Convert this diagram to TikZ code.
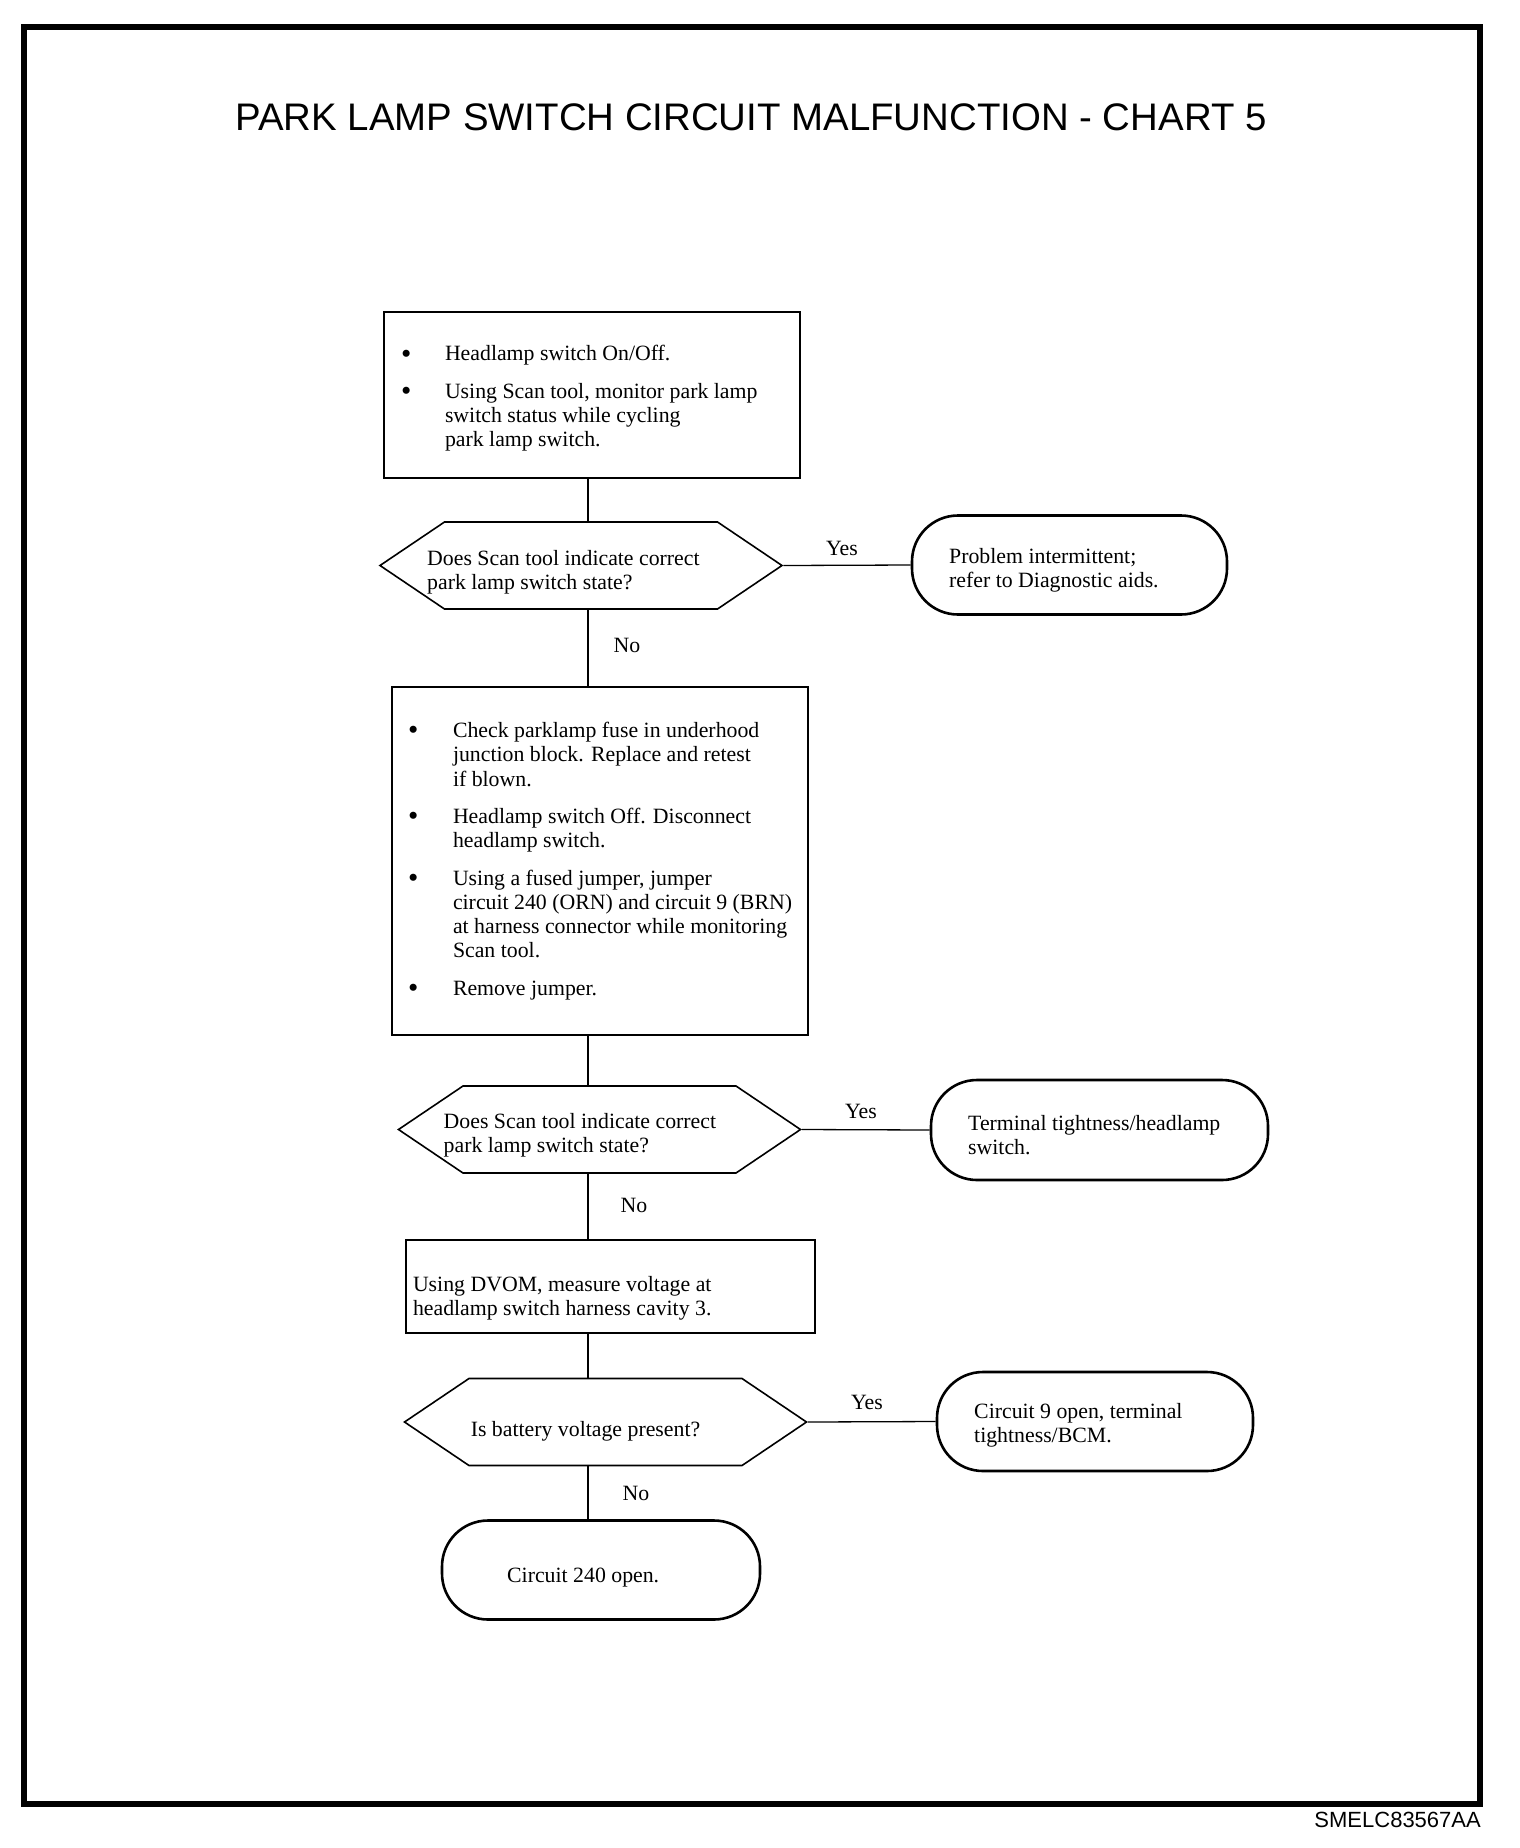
\documentclass[tikz,border=0pt]{standalone}
\usepackage{fontspec}
\setmainfont{Liberation Serif}
\newfontfamily\titlefont{Liberation Sans}
\usetikzlibrary{shapes.symbols}
\newcommand{\bitem}[2]{\par\hangindent=58pt\hangafter=1\noindent\makebox[58pt][l]{\hspace{#1}\raisebox{-2.4pt}{\scalebox{1.35}{\textbullet}}}#2\par}
\newcommand{\bodyfont}{\fontsize{21.8}{24.3}\selectfont}
\begin{document}
\begin{tikzpicture}[x=1pt,y=-1pt,
  box/.style={draw, line width=1.8, rectangle, inner sep=0, font=\bodyfont},
  dec/.style={draw, line width=1.6, signal, signal to=west and east, signal pointer angle=68, minimum width=402, minimum height=87, inner sep=0},
  term/.style={draw, line width=2.6, rectangle, rounded corners=46, inner sep=0},
  txt/.style={inner sep=0, anchor=west, align=left, font=\bodyfont},
  conn/.style={line width=1.3},
  lab/.style={inner sep=0, font=\bodyfont}
]
\useasboundingbox (0,0) rectangle (1520,1848);
\draw[line width=6] (23.5,26.5) rectangle (1480,1804);
\node[inner sep=0, font=\titlefont\fontsize{38.4}{40}\selectfont] (title) at (751,117.5) {PARK LAMP SWITCH CIRCUIT MALFUNCTION - CHART 5};
\node[inner sep=0, anchor=east, font=\titlefont\fontsize{22}{24}\selectfont] (code) at (1481,1820) {SMELC83567AA};

% process boxes
\node[box, minimum width=416, minimum height=166] (b1) at (592,395) {\raisebox{-3.5pt}[\height][\depth]{\begin{minipage}{410pt}\raggedright\setlength{\parskip}{13pt}%
\bitem{14pt}{Headlamp switch On/Off.}
\bitem{14pt}{Using Scan tool, monitor park lamp\newline switch status while cycling\newline park lamp switch.}
\end{minipage}}};

\node[box, minimum width=416, minimum height=348] (b2) at (600,861) {\begin{minipage}{410pt}\raggedright\setlength{\parskip}{13pt}%
\bitem{13pt}{Check parklamp fuse in underhood\newline junction block. Replace and retest\newline if blown.}
\bitem{13pt}{Headlamp switch Off. Disconnect\newline headlamp switch.}
\bitem{13pt}{Using a fused jumper, jumper\newline circuit 240 (ORN) and circuit 9 (BRN)\newline at harness connector while monitoring\newline Scan tool.}
\bitem{13pt}{Remove jumper.}
\end{minipage}};

\node[box, minimum width=409, minimum height=93] (b3) at (610.5,1286.5) {\raisebox{-12pt}[\height][\depth]{\begin{minipage}{395pt}\raggedright Using DVOM, measure voltage at\newline headlamp switch harness cavity 3.\end{minipage}}};

% decisions
\node[dec] (d1) at (581,565.5) {};
\node[txt] (d1t) at (427,572.5) {Does Scan tool indicate correct\\park lamp switch state?};
\node[dec] (d2) at (599.5,1129.5) {};
\node[txt] (d2t) at (443.5,1135) {Does Scan tool indicate correct\\park lamp switch state?};
\node[dec] (d3) at (605.5,1422) {};
\node[txt] (d3t) at (470.6,1431) {Is battery voltage present?};

% terminals
\node[term, minimum width=315, minimum height=99] (t1) at (1069.5,565) {};
\node[txt] (t1t) at (949,570) {Problem intermittent;\\refer to Diagnostic aids.};
\node[term, minimum width=337, minimum height=100] (t2) at (1099.5,1130) {};
\node[txt] (t2t) at (968,1135) {Terminal tightness/headlamp\\switch.};
\node[term, minimum width=316, minimum height=99] (t3) at (1095,1421.5) {};
\node[txt] (t3t) at (974,1425.5) {Circuit 9 open, terminal\\tightness/BCM.};
\node[term, minimum width=318, minimum height=99] (t4) at (601,1570) {};
\node[txt] (t4t) at (507,1578) {Circuit 240 open.};

% connectors
\coordinate (spine) at (588,0);
\draw[conn] (b1.south -| spine) -- (d1.north -| spine);
\draw[conn] (d1.south -| spine) -- (b2.north -| spine);
\draw[conn] (b2.south -| spine) -- (d2.north -| spine);
\draw[conn] (d2.south -| spine) -- (b3.north -| spine);
\draw[conn] (b3.south -| spine) -- (d3.north -| spine);
\draw[conn] (d3.south -| spine) -- (t4.north -| spine);
\draw[conn] (d1.east) -- (t1.west);
\draw[conn] (d2.east) -- (t2.west);
\draw[conn] (d3.east) -- (t3.west);

\node[lab] (y1) at (842,548) {Yes};
\node[lab] (y2) at (861,1111) {Yes};
\node[lab] (y3) at (867,1402) {Yes};
\node[lab] (n1) at (627,645) {No};
\node[lab] (n2) at (634,1205) {No};
\node[lab] (n3) at (636,1493) {No};
\end{tikzpicture}
\end{document}
